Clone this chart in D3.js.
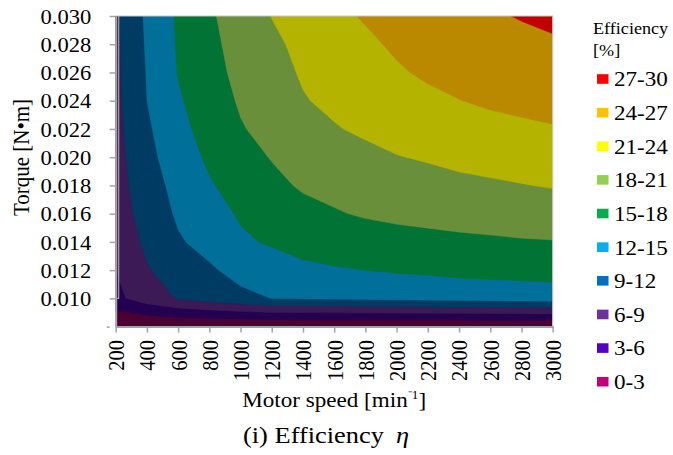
<!DOCTYPE html>
<html>
<head>
<meta charset="utf-8">
<script src="https://cdn.jsdelivr.net/npm/d3@7"></script>
<style>
  html, body { margin: 0; padding: 0; background: #fff; }
  svg { display: block; }
</style>
</head>
<body>
<svg id="chart" width="673" height="455"></svg>
<script>
// Motor speed categories [min^-1]
const speeds = [200, 400, 600, 800, 1000, 1200, 1400, 1600, 1800, 2000, 2200, 2400, 2600, 2800, 3000];
// Torque rows, bottom to top (the lowest row carries no label)
const torqueLabels = ["", "0.010", "0.012", "0.014", "0.016", "0.018", "0.020", "0.022", "0.024", "0.026", "0.028", "0.030"];

// Efficiency [%] per torque row, one value per motor speed
const effT008 = [0, 0, 0, 0, 0, 0, 0, 0, 0, 0, 0, 0, 0, 0, 0];
const effT010 = [5.3, 7.47, 9.2, 10.23, 11.3, 12.04, 12.19, 12.34, 12.49, 12.64, 12.8, 12.95, 13.1, 13.25, 13.4];
const effT012 = [6.0, 8.8, 10.24, 11.62, 12.9, 13.7, 14.3, 14.75, 15.0, 15.3, 15.5, 15.8, 15.94, 16.07, 16.2];
const effT014 = [7.0, 9.55, 11.7, 12.93, 14.6, 15.3, 16.2, 16.5, 16.8, 17.0, 17.2, 17.45, 17.62, 17.8, 17.9];
const effT016 = [7.6, 10.13, 12.39, 13.89, 15.3, 16.3, 17.1, 17.8, 18.25, 18.6, 18.85, 19.05, 19.2, 19.35, 19.4];
const effT018 = [7.8, 10.63, 12.93, 14.75, 16.05, 17.27, 18.35, 18.7, 19.2, 19.7, 20.05, 20.45, 20.65, 20.9, 21.2];
const effT020 = [7.95, 11.16, 13.57, 15.47, 16.9, 18.15, 19.0, 19.6, 20.3, 20.9, 21.25, 21.6, 21.95, 22.3, 22.6];
const effT022 = [8.15, 11.56, 14.15, 16.1, 17.8, 18.86, 19.84, 20.82, 21.45, 22.0, 22.4, 22.85, 23.2, 23.5, 23.8];
const effT024 = [8.25, 12.0, 14.67, 16.6, 18.3, 19.57, 20.84, 21.53, 22.14, 22.9, 23.4, 23.95, 24.4, 24.7, 25.0];
const effT026 = [8.35, 12.15, 15.13, 17.06, 18.7, 20.08, 21.26, 22.05, 22.85, 23.7, 24.4, 24.8, 25.2, 25.5, 25.9];
const effT028 = [8.45, 12.33, 15.29, 17.34, 19.0, 20.5, 21.63, 22.57, 23.5, 24.4, 25.1, 25.6, 26.0, 26.35, 26.7];
const effT030 = [8.6, 12.5, 15.4, 17.6, 19.4, 21.06, 22.2, 23.35, 24.25, 25.0, 25.65, 26.2, 26.7, 27.15, 27.5];
const efficiency = [effT008, effT010, effT012, effT014, effT016, effT018, effT020, effT022, effT024, effT026, effT028, effT030];

// Efficiency bands (lower bound of each band) and their labels
const bandThresholds = [0, 3, 6, 9, 12, 15, 18, 21, 24, 27];
const bandLabels = ["0-3", "3-6", "6-9", "9-12", "12-15", "15-18", "18-21", "21-24", "24-27", "27-30"];
// Shaded surface colours and the matching legend swatches
const surfaceFills = ["#4b0033", "#230050", "#3b1a55", "#003b63", "#00709a", "#007335", "#6a8f3a", "#b3b300", "#bb8900", "#c00000"];
const legendFills = ["#c0007f", "#5600c0", "#7030a0", "#0070c0", "#00b0f0", "#00b050", "#92d050", "#ffff00", "#ffc000", "#ff0000"];

const FONT = '"Liberation Serif"';
const svg = d3.select("#chart");
const plot = { left: 115.7, right: 552.7, top: 16, bottom: 326.6 };
const axisColor = "#a3a3a3";
const stretch = "scale(1.1,1)";

const x = d3.scalePoint().domain(speeds).range([plot.left, plot.right]);
const y = d3.scalePoint().domain(torqueLabels).range([plot.bottom, plot.top]);

// Index scales for the contour grid (grid row 0 = top torque row)
const nx = speeds.length, ny = torqueLabels.length;
const xi = d3.scaleLinear().domain([0, nx - 1]).range([plot.left, plot.right]);
const yi = d3.scaleLinear().domain([0, ny - 1]).range([plot.top, plot.bottom]);

const grid = [];
for (let r = ny - 1; r >= 0; r--) grid.push(...efficiency[r]);

const contours = d3.contours()
  .size([nx, ny])
  .thresholds(bandThresholds.slice(1))(grid);

const projection = d3.geoTransform({
  point(px, py) { this.stream.point(xi(px - 0.5), yi(py - 0.5)); }
});
const path = d3.geoPath(projection);

svg.append("defs").append("clipPath").attr("id", "plot-clip")
  .append("rect")
  .attr("x", plot.left).attr("y", plot.top)
  .attr("width", plot.right - plot.left).attr("height", plot.bottom - plot.top);

const surface = svg.append("g").attr("clip-path", "url(#plot-clip)");
surface.append("rect")
  .attr("x", plot.left).attr("y", plot.top)
  .attr("width", plot.right - plot.left).attr("height", plot.bottom - plot.top)
  .attr("fill", surfaceFills[0]);
surface.selectAll("path.band")
  .data(contours)
  .join("path")
  .attr("class", "band")
  .attr("d", path)
  .attr("fill", (d, i) => surfaceFills[i + 1])
  .attr("stroke", (d, i) => surfaceFills[i + 1])
  .attr("stroke-width", 0.4);

// Plot frame
svg.append("path")
  .attr("d", `M${plot.left},${plot.top}H${plot.right}V${plot.bottom}`)
  .attr("fill", "none").attr("stroke", "#c8c8c8").attr("stroke-width", 1.2);
// Side wall of the surface
svg.append("path")
  .attr("d", `M${plot.left + 3},${plot.top}V${y("0.010")}H${plot.left}`)
  .attr("fill", "none").attr("stroke", axisColor).attr("stroke-width", 1.2);

// Y axis
const yAxis = svg.append("g")
  .attr("transform", `translate(${plot.left},0)`)
  .call(d3.axisLeft(y).tickSize(6).tickSizeOuter(0))
  .attr("font-family", null).attr("font-size", null);
yAxis.select(".domain").attr("stroke", axisColor).attr("stroke-width", 2);
yAxis.selectAll(".tick line").attr("stroke", axisColor).attr("stroke-width", 1.5)
  .attr("x1", (d, i) => i === 0 ? -9 : 0);
yAxis.selectAll(".tick text")
  .attr("x", null).attr("dy", "0.35em")
  .attr("transform", `translate(-24.5,0) ${stretch}`)
  .attr("text-anchor", "end")
  .attr("fill", "#000")
  .style("font-family", FONT).style("font-size", "20.5px");

// X axis
const xAxis = svg.append("g")
  .attr("transform", `translate(0,${plot.bottom})`)
  .call(d3.axisBottom(x).tickSize(6).tickSizeOuter(0))
  .attr("font-family", null).attr("font-size", null);
xAxis.select(".domain").attr("stroke", axisColor).attr("stroke-width", 2);
xAxis.selectAll(".tick line").attr("stroke", axisColor).attr("stroke-width", 1.5);
xAxis.selectAll(".tick text")
  .attr("y", null).attr("dy", "0.35em")
  .attr("transform", `translate(0,13.5) ${stretch} rotate(-90)`)
  .attr("text-anchor", "end")
  .attr("fill", "#000")
  .style("font-family", FONT).style("font-size", "20.5px");

// Axis titles
svg.append("text")
  .attr("transform", `translate(28.5,157.5) ${stretch} rotate(-90)`)
  .attr("text-anchor", "middle")
  .style("font-family", FONT).style("font-size", "21px")
  .text("Torque [N\u2022m]");

const xTitle = svg.append("text")
  .attr("transform", `translate(${(plot.left + plot.right) / 2},407) ${stretch}`)
  .attr("text-anchor", "middle")
  .style("font-family", FONT).style("font-size", "21px");
xTitle.append("tspan").text("Motor speed [min");
xTitle.append("tspan").style("font-size", "12px").attr("dy", -8).text("\u207b1");
xTitle.append("tspan").attr("dy", 8).text("]");

// Caption
const caption = svg.append("text")
  .attr("transform", `translate(243,443) ${stretch}`)
  .style("font-family", FONT).style("font-size", "24px");
caption.append("tspan").text("(i) Efficiency");
caption.append("tspan").attr("x", 139).style("font-style", "italic").text("\u03b7");

// Legend
const legend = svg.append("g");
legend.append("text").attr("transform", `translate(593,33.5) ${stretch}`)
  .style("font-family", FONT).style("font-size", "16.5px").text("Efficiency");
legend.append("text").attr("transform", `translate(593,56) ${stretch}`)
  .style("font-family", FONT).style("font-size", "16.5px").text("[%]");

const legendY = d3.scalePoint()
  .domain(bandLabels.slice().reverse())
  .range([79, 381.7]);

const items = legend.selectAll("g.item")
  .data(bandLabels.map((label, i) => ({ label, fill: legendFills[i] })))
  .join("g")
  .attr("class", "item")
  .attr("transform", d => `translate(0,${legendY(d.label)})`);
items.append("rect")
  .attr("x", 597).attr("y", -4.8).attr("width", 11.5).attr("height", 9.6)
  .attr("fill", d => d.fill);
items.append("text")
  .attr("transform", `translate(614,0) ${stretch}`)
  .attr("dy", "0.35em")
  .style("font-family", FONT).style("font-size", "21px")
  .text(d => d.label);
</script>
</body>
</html>
